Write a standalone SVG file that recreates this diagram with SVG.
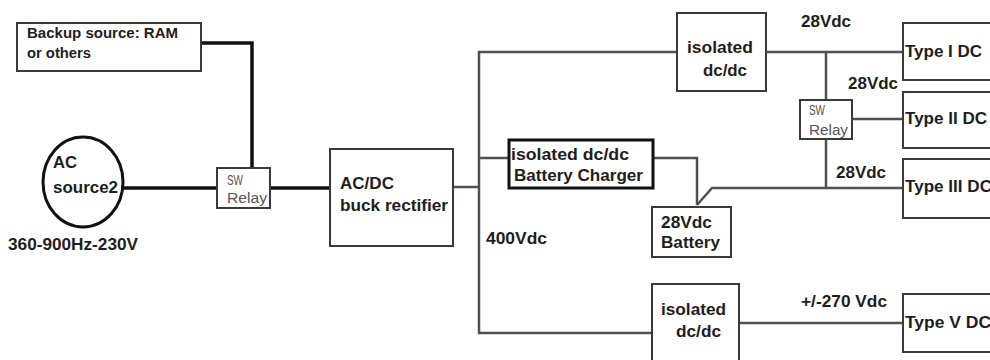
<svg xmlns="http://www.w3.org/2000/svg" width="990" height="360" viewBox="0 0 990 360">
<style>
.bg{fill:#ffffff}
.box{fill:#ffffff;stroke:#3a3a3a;stroke-width:2}
.tbox{fill:#ffffff;stroke:#111111;stroke-width:3}
.t{font-family:"Liberation Sans",Arial,sans-serif;font-weight:bold;fill:#1e1e1e}
.r{font-family:"Liberation Sans",Arial,sans-serif;font-weight:normal;fill:#555555;font-size:14px}
.blk{fill:none;stroke:#111111;stroke-width:3.5}
.gry{fill:none;stroke:#505050;stroke-width:2.5}
</style>
<rect class="bg" x="0" y="0" width="990" height="360"/>
<g id="connectors">
<path class="blk" d="M201 43 H252 V168"/>
<path class="blk" d="M123 188 H217"/>
<path class="blk" d="M270 188 H330"/>
<path class="gry" d="M453 187 H479"/>
<path class="gry" d="M677 52 H479 V333 H652"/>
<path class="gry" d="M479 158 H509"/>
<path class="gry" d="M653 158 H697 V205"/>
<path class="gry" d="M697 205 L712 188 H903"/>
<path class="gry" d="M766 52 H903"/>
<path class="gry" d="M826 52 V100"/>
<path class="gry" d="M826 139 V188"/>
<path class="gry" d="M852 119 H903"/>
<path class="gry" d="M739 323 H903"/>
</g>
<g id="backup">
<rect class="box" x="17" y="23" width="184" height="48"/>
<text class="t" x="27" y="38" font-size="14" textLength="151" lengthAdjust="spacingAndGlyphs">Backup source: RAM</text>
<text class="t" x="27" y="58" font-size="14" textLength="64" lengthAdjust="spacingAndGlyphs">or others</text>
</g>
<g id="ac-source">
<ellipse cx="83" cy="182" rx="40" ry="45" fill="#ffffff" stroke="#111111" stroke-width="3"/>
<text class="t" x="53" y="168" font-size="16" textLength="24" lengthAdjust="spacingAndGlyphs">AC</text>
<text class="t" x="53" y="193" font-size="16" textLength="65" lengthAdjust="spacingAndGlyphs">source2</text>
<text class="t" x="8" y="250" font-size="17" textLength="130" lengthAdjust="spacingAndGlyphs">360-900Hz-230V</text>
</g>
<g id="relay1">
<rect class="box" x="217" y="168" width="53" height="40"/>
<text class="r" x="227" y="185" textLength="16" lengthAdjust="spacingAndGlyphs">SW</text>
<text class="r" x="227" y="203" textLength="40" lengthAdjust="spacingAndGlyphs">Relay</text>
</g>
<g id="acdc">
<rect class="box" x="330" y="149" width="123" height="97"/>
<text class="t" x="340" y="189" font-size="17" textLength="54" lengthAdjust="spacingAndGlyphs">AC/DC</text>
<text class="t" x="340" y="211" font-size="17" textLength="108" lengthAdjust="spacingAndGlyphs">buck rectifier</text>
</g>
<g id="bus-label">
<text class="t" x="486" y="244" font-size="16" textLength="61" lengthAdjust="spacingAndGlyphs">400Vdc</text>
</g>
<g id="charger">
<rect class="tbox" x="509" y="140" width="144" height="48"/>
<text class="t" x="511" y="160" font-size="17" font-weight="normal" textLength="118" lengthAdjust="spacingAndGlyphs">isolated dc/dc</text>
<text class="t" x="514" y="181" font-size="17" textLength="129" lengthAdjust="spacingAndGlyphs">Battery Charger</text>
</g>
<g id="battery">
<rect class="box" x="652" y="207" width="79" height="50"/>
<text class="t" x="661" y="228" font-size="16" textLength="51" lengthAdjust="spacingAndGlyphs">28Vdc</text>
<text class="t" x="661" y="248" font-size="16" textLength="59" lengthAdjust="spacingAndGlyphs">Battery</text>
</g>
<g id="iso-top">
<rect class="box" x="677" y="13" width="89" height="78"/>
<text class="t" x="687" y="53" font-size="16" textLength="66" lengthAdjust="spacingAndGlyphs">isolated</text>
<text class="t" x="703" y="76" font-size="16" textLength="44" lengthAdjust="spacingAndGlyphs">dc/dc</text>
</g>
<g id="iso-bottom">
<rect class="box" x="652" y="284" width="87" height="82"/>
<text class="t" x="661" y="315" font-size="16" textLength="65" lengthAdjust="spacingAndGlyphs">isolated</text>
<text class="t" x="676" y="337" font-size="16" textLength="45" lengthAdjust="spacingAndGlyphs">dc/dc</text>
</g>
<g id="relay2">
<rect class="box" x="800" y="100" width="52" height="39"/>
<text class="r" x="809" y="115" textLength="16" lengthAdjust="spacingAndGlyphs">SW</text>
<text class="r" x="809" y="135" textLength="39" lengthAdjust="spacingAndGlyphs">Relay</text>
</g>
<g id="labels">
<text class="t" x="801" y="27" font-size="16" textLength="50" lengthAdjust="spacingAndGlyphs">28Vdc</text>
<text class="t" x="848" y="89" font-size="16" textLength="50" lengthAdjust="spacingAndGlyphs">28Vdc</text>
<text class="t" x="836" y="178" font-size="16" textLength="50" lengthAdjust="spacingAndGlyphs">28Vdc</text>
<text class="t" x="801" y="307" font-size="16" textLength="86" lengthAdjust="spacingAndGlyphs">+/-270 Vdc</text>
</g>
<g id="type1">
<rect class="box" x="903" y="23" width="120" height="57"/>
<text class="t" x="905" y="57" font-size="16" textLength="77" lengthAdjust="spacingAndGlyphs">Type I DC</text>
</g>
<g id="type2">
<rect class="box" x="903" y="92" width="120" height="56"/>
<text class="t" x="905" y="124" font-size="16" textLength="82" lengthAdjust="spacingAndGlyphs">Type II DC</text>
</g>
<g id="type3">
<rect class="box" x="903" y="159" width="120" height="59"/>
<text class="t" x="905" y="192" font-size="16" textLength="87" lengthAdjust="spacingAndGlyphs">Type III DC</text>
</g>
<g id="type5">
<rect class="box" x="903" y="294" width="120" height="58"/>
<text class="t" x="905" y="328" font-size="16" textLength="86" lengthAdjust="spacingAndGlyphs">Type V DC</text>
</g>
</svg>
